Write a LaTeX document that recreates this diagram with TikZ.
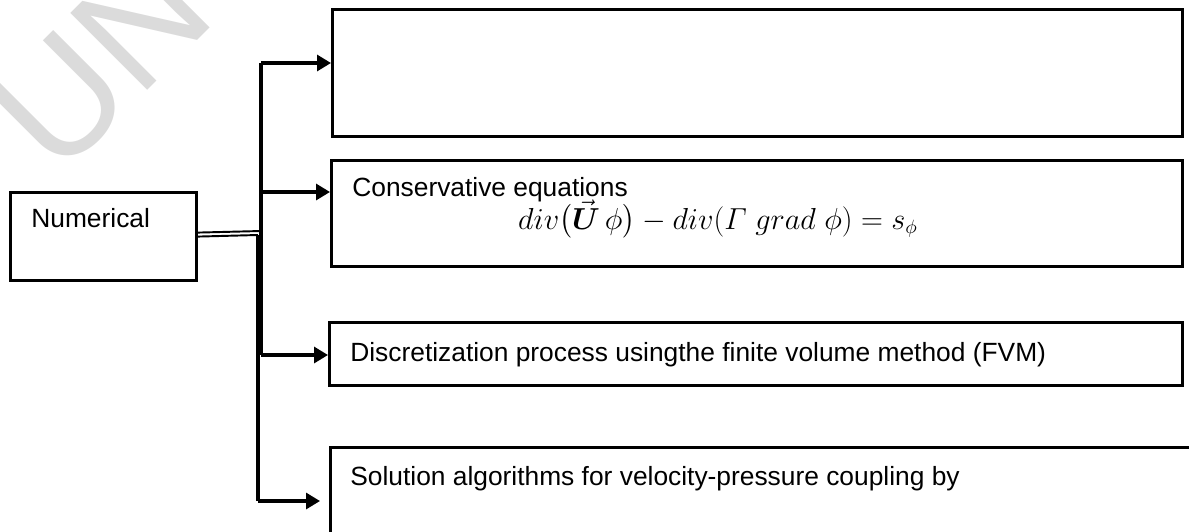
\documentclass[tikz,border=0pt]{standalone}
\usepackage{amsmath}
\usepackage{amssymb}
\usepackage[no-math]{fontspec}
\setmainfont{Liberation Sans}
\usepackage{tikz}
\usetikzlibrary{positioning, arrows.meta}

\tikzset{
    box/.style={draw, line width=1.8pt, inner sep=0pt, anchor=north west},
    txt/.style={anchor=base west, inner sep=0pt, font=\fontsize{15}{18}\selectfont},
    bus/.style={line width=1.8pt},
    thinbus/.style={line width=1.1pt},
    link/.style={line width=1.8pt, -{Triangle[length=0.28cm, width=0.32cm]}},
}

\begin{document}
\begin{tikzpicture}[x=0.02cm, y=-0.02cm]
    \useasboundingbox (0,0) rectangle (1189,531);
    \clip (0,0) rectangle (1189,531);

    % Watermark
    \node[anchor=base west, inner sep=0pt, rotate=45, text=black!14,
          font=\fontsize{90}{90}\selectfont] (mark) at (58,180) {UN};

    % Numerical
    \node[box, minimum width=3.72cm, minimum height=1.76cm] (num) at (9,191) {};
    \node[txt] (numtxt) at (31,227) {Numerical};

    % Empty box
    \node[box, minimum width=17cm, minimum height=2.54cm] (top) at (331,8) {};

    % Conservative equations
    \node[box, minimum width=17.02cm, minimum height=2.12cm] (cons) at (330,159) {};
    \node[txt] (constxt) at (352,196) {Conservative equations};
    \node[anchor=base, inner sep=0pt, font=\fontsize{16}{19}\selectfont] (eq) at (718,229)
        {$div\bigl(\vec{\boldsymbol{U}}\,\phi\bigr) - div(\varGamma\; grad\;\phi) = s_{\phi}$};

    % Discretization
    \node[box, minimum width=17.06cm, minimum height=1.26cm] (disc) at (328,321) {};
    \node[txt] (disctxt) at (350,361) {Discretization process usingthe finite volume method (FVM)};

    % Solution algorithms
    \node[box, minimum width=18cm, minimum height=3cm] (sol) at (329,446) {};
    \node[txt] (soltxt) at (350,485) {Solution algorithms for velocity-pressure coupling by};

    % Bus points
    \coordinate (b1) at (261,63);
    \coordinate (b2) at (261,192);
    \coordinate (b3) at (261,355);
    \coordinate (b4) at (258,501);
    \coordinate (k1) at (261,231);
    \coordinate (k2) at (258,235);

    % Double line and bus
    \draw[thinbus] ([yshift=0.08cm]num.east) -- (k1);
    \draw[thinbus] (num.east) -- (k2);
    \draw[bus] (k2) -- (b4);
    \draw[bus] (b1) -- (b3);

    % Arrows
    \draw[link] (b1) -- (b1 -| top.west);
    \draw[link] (b2) -- (b2 -| cons.west);
    \draw[link] (b3) -- (b3 -| disc.west);
    \draw[link] (b4) -- ([xshift=-0.18cm]b4 -| sol.west);
\end{tikzpicture}
\end{document}
